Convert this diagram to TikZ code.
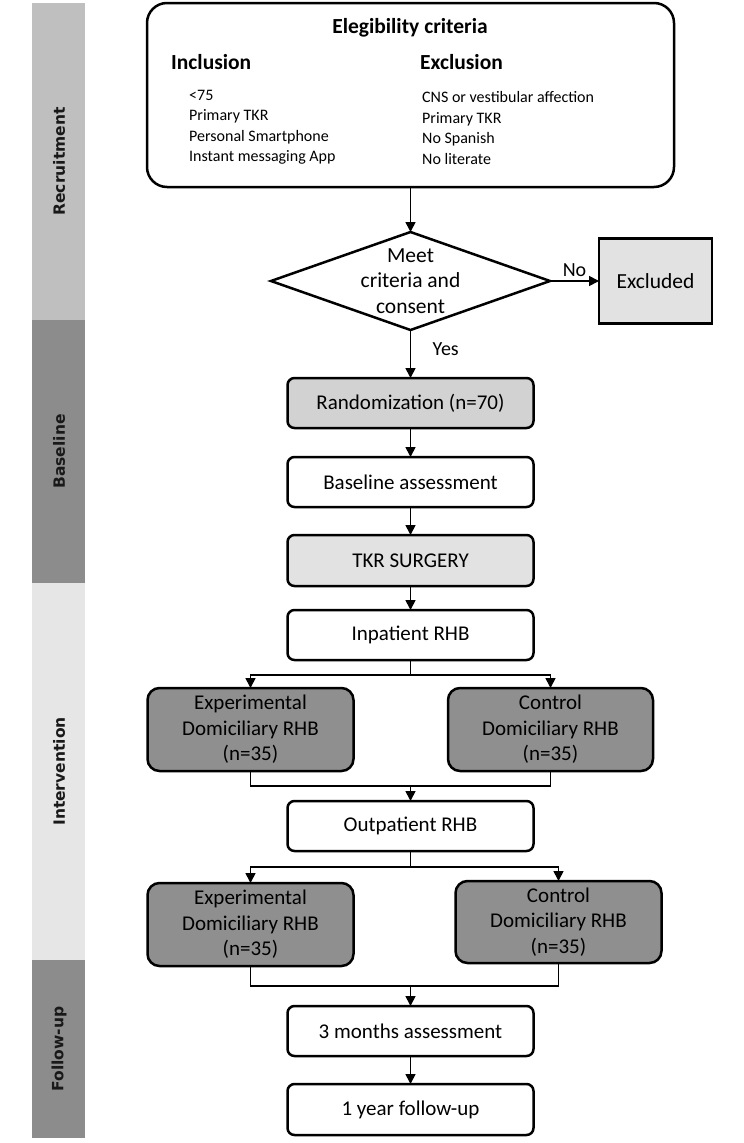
\documentclass[tikz,border=0pt]{standalone}
\usepackage{fontspec}
\setmainfont{Carlito}
\newfontfamily\bandfont{DejaVu Sans}
\usetikzlibrary{positioning, shapes.geometric, arrows.meta}

\definecolor{recrgray}{HTML}{BFBFBF}
\definecolor{darkband}{HTML}{8C8C8C}
\definecolor{intergray}{HTML}{E6E6E6}
\definecolor{randgray}{HTML}{D2D2D2}
\definecolor{surggray}{HTML}{E2E2E2}
\definecolor{armgray}{HTML}{8F8F8F}

\tikzset{
  stage/.style={draw, line width=2.5pt, rounded corners=7pt, minimum width=246pt,
    minimum height=50pt, outer sep=0pt, font=\fontsize{21}{24}\selectfont},
  arm/.style={stage, fill=armgray, align=center, rounded corners=12pt,
    minimum width=206pt, minimum height=83pt, font=\fontsize{21}{25.5}\selectfont},
  flow/.style={-{Triangle[length=10pt,width=10pt]}, line width=1.7pt},
  bandlabel/.style={rotate=90, text=black!90, font=\bandfont\bfseries\fontsize{15.5}{18}\selectfont},
  head/.style={inner sep=0pt, font=\bfseries\fontsize{21.5}{24}\selectfont},
  items/.style={anchor=west, align=left, inner sep=0pt, font=\fontsize{16}{20.5}\selectfont}
}

\begin{document}
\begin{tikzpicture}[x=1pt, y=-1pt]
\useasboundingbox (0,0) rectangle (744,1143);

% phase bands
\fill[recrgray] (32,3) rectangle (85,320);
\fill[darkband] (32,320) rectangle (85,583);
\fill[intergray] (32,583) rectangle (85,960);
\fill[darkband] (32,960) rectangle (85,1138);
\node[bandlabel] (recr) at (59,161.5) {Recruitment};
\node[bandlabel] (basel) at (59,451.5) {Baseline};
\node[bandlabel] (interv) at (59,771.5) {Intervention};
\node[bandlabel] (follow) at (59,1049) {Follow-up};

% eligibility
\node[draw, line width=2.5pt, rounded corners=20pt, minimum width=527pt, minimum height=184pt, outer sep=0pt] (crit) at (410.5,95) {};
\node[head] (crittitle) at (410,28) {Elegibility criteria};
\node[head, anchor=west] (incl) at (171,62) {Inclusion};
\node[head, anchor=west] (excl) at (420,62) {Exclusion};
\node[items] (incllist) at (189,127) {<75\\Primary TKR\\Personal Smartphone\\Instant messaging App};
\node[items] (excllist) at (422,128) {CNS or vestibular affection\\Primary TKR\\No Spanish\\No literate};

\node[diamond, draw, line width=2.5pt, minimum width=279pt, minimum height=98pt, inner sep=0pt, outer sep=0pt, below=45pt of crit] (meet) {};
\node[align=center, font=\fontsize{21.5}{25.5}\selectfont] (meettxt) at (meet.center) {Meet\\criteria and\\consent};
\node[draw, line width=2.5pt, fill=surggray, minimum width=113pt, minimum height=85pt, outer sep=0pt,
  right=49pt of meet, font=\fontsize{21.5}{24}\selectfont] (out) {Excluded};

% main flow
\node[stage, fill=randgray, below=48pt of meet] (rand) {Randomization (n=70)};
\node[stage, below=29pt of rand] (base) {Baseline assessment};
\node[stage, fill=surggray, minimum height=51pt, below=28pt of base] (tkr) {TKR SURGERY};
\node[stage, below=24pt of tkr] (inpat) {Inpatient RHB};
\node[arm, below=28pt of inpat, xshift=-160pt] (exp1) {Experimental\\Domiciliary RHB\\(n=35)};
\node[arm, minimum width=205pt, below=28pt of inpat, xshift=140pt] (ctl1) {Control\\Domiciliary RHB\\(n=35)};
\node[stage, below=30pt of exp1, xshift=160pt] (outpat) {Outpatient RHB};
\node[arm, below=32pt of outpat, xshift=-160pt] (exp2) {Experimental\\Domiciliary RHB\\(n=35)};
\node[arm, minimum height=82pt, below=30pt of outpat, xshift=148pt] (ctl2) {Control\\Domiciliary RHB\\(n=35)};
\node[stage, below=40pt of exp2, xshift=160pt] (m3) {3 months assessment};
\node[stage, minimum height=51pt, below=28pt of m3] (yr1) {1 year follow-up};

% connectors
\draw[flow] (crit) -- (meet);
\draw[flow] (meet) -- node[above, font=\fontsize{20}{22}\selectfont] (nolab) {No} (out);
\draw[flow] (meet) -- node[right=18pt, pos=0.4, font=\fontsize{20}{22}\selectfont] (yeslab) {Yes} (rand);
\draw[flow] (rand) -- (base);
\draw[flow] (base) -- (tkr);
\draw[flow] (tkr) -- (inpat);
\draw[flow] (inpat.south) -- ++(0,15) coordinate (fork1) -| (exp1);
\draw[flow] (fork1) -| (ctl1);
\draw[line width=1.7pt] (exp1.south) -- ++(0,15) coordinate (join1) -| (ctl1.south);
\draw[flow] (join1 -| outpat.north) -- (outpat);
\draw[flow] (outpat.south) -- ++(0,16) coordinate (fork2) -| (exp2);
\draw[flow] (fork2) -| (ctl2);
\draw[line width=1.7pt] (exp2.south) -- ++(0,20) coordinate (join2) -| (ctl2.south);
\draw[flow] (join2 -| m3.north) -- (m3);
\draw[flow] (m3) -- (yr1);

\end{tikzpicture}
\end{document}
